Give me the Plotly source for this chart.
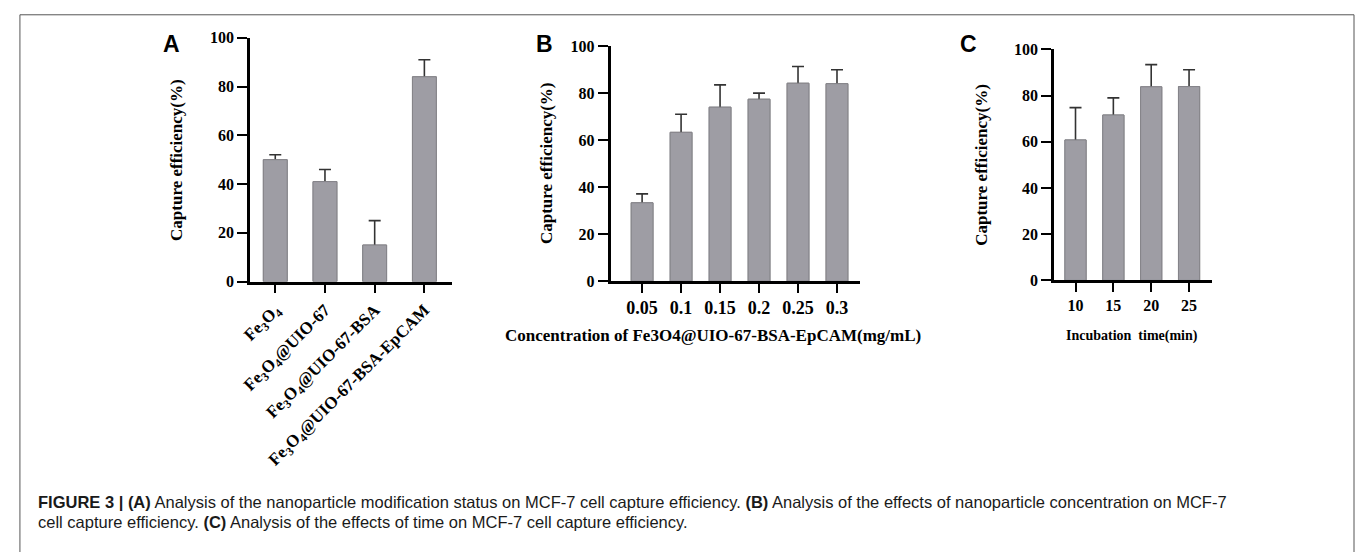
import plotly.graph_objects as go

# ---- data ----
A_labels = ["Fe<sub>3</sub>O<sub>4</sub>", "Fe<sub>3</sub>O<sub>4</sub>@UIO-67",
            "Fe<sub>3</sub>O<sub>4</sub>@UIO-67-BSA", "Fe<sub>3</sub>O<sub>4</sub>@UIO-67-BSA-EpCAM"]
A_values = [50, 41, 15, 84]
A_err = [2, 5, 10, 7]

B_conc = ["0.05", "0.1", "0.15", "0.2", "0.25", "0.3"]
B_values = [33.3, 63.3, 74, 77.4, 84.2, 84]
B_err = [3.8, 7.7, 9.5, 2.6, 7.1, 5.9]

C_time = ["10", "15", "20", "25"]
C_values = [60.8, 71.6, 83.8, 83.9]
C_err = [14, 7.4, 9.6, 7.3]

Y_TITLE = "Capture efficiency(%)"
B_XTITLE = "Concentration of Fe3O4@UIO-67-BSA-EpCAM(mg/mL)"
C_XTITLE = "Incubation  time(min)"
CAPTION_1 = ("<b>FIGURE 3 | (A)</b> Analysis of the nanoparticle modification status on MCF-7 cell capture efficiency. "
             "<b>(B)</b> Analysis of the effects of nanoparticle concentration on MCF-7")
CAPTION_2 = "cell capture efficiency. <b>(C)</b> Analysis of the effects of time on MCF-7 cell capture efficiency."

W, H = 1355, 552
BAR_COLOR = "#9e9da4"
BAR_LINE = "#858489"
ERR_COLOR = "#333333"
SERIF = "Liberation Serif, Times New Roman, serif"
SANS = "Liberation Sans, Arial, sans-serif"


def px_x(p):
    return p / W


def px_y(p):
    return 1 - p / H


fig = go.Figure()

panels = [
    # x categories, values, errors, bar width, x-domain px, y px (0, 100), x-range, x tick size
    ("x", "y", list(range(len(A_values))), A_values, A_err, 0.48, (241.7, 445), (282.3, 30.7), [-0.51, 3.55], 17),
    ("x2", "y2", B_conc, B_values, B_err, 0.56, (605, 856.7), (281.7, 39.3), [-0.81, 5.6], 18),
    ("x3", "y3", C_time, C_values, C_err, 0.56, (1051.7, 1210.7), (281, 42.7), [-0.57, 3.6], 16),
]

for i, (xa, ya, xs, vals, errs, bw, xd, yd, xr, xts) in enumerate(panels):
    # bar with error bars (symmetric), then same bar on top to hide the lower half
    fig.add_trace(go.Bar(
        x=xs, y=vals, width=bw, xaxis=xa, yaxis=ya,
        marker=dict(color=BAR_COLOR, line=dict(color=BAR_LINE, width=1)),
        error_y=dict(type="data", array=errs, symmetric=True, color=ERR_COLOR, thickness=1.6, width=6),
        showlegend=False, hoverinfo="skip",
    ))
    fig.add_trace(go.Bar(
        x=xs, y=vals, width=bw, xaxis=xa, yaxis=ya,
        marker=dict(color=BAR_COLOR, line=dict(color=BAR_LINE, width=1)),
        showlegend=False, hoverinfo="skip",
    ))
    sfx = "" if i == 0 else str(i + 1)
    xaxis = dict(
        domain=[px_x(xd[0]), px_x(xd[1])], anchor=ya, range=xr,
        showline=True, linecolor="black", linewidth=2.5,
        ticks="outside", ticklen=9, tickwidth=2, tickcolor="black",
        showgrid=False, zeroline=False, fixedrange=True,
        tickfont=dict(family=SERIF, size=xts, color="black", weight="bold"),
    )
    if i == 0:
        xaxis.update(tickmode="array", tickvals=list(range(len(A_labels))), ticktext=A_labels,
                     tickangle=-45)
    else:
        xaxis.update(type="category")
    yaxis = dict(
        domain=[px_y(yd[0]), px_y(yd[1])], anchor=xa, range=[0, 100],
        tickmode="array", tickvals=[0, 20, 40, 60, 80, 100],
        showline=True, linecolor="black", linewidth=2.5,
        ticks="outside", ticklen=10, tickwidth=2, tickcolor="black",
        showgrid=False, zeroline=False, fixedrange=True,
        tickfont=dict(family=SERIF, size=16, color="black", weight="bold"),
    )
    fig.layout["xaxis" + sfx] = xaxis
    fig.layout["yaxis" + sfx] = yaxis

annotations = []
# y-axis titles
for xc, yc in [(167, 157), (540, 160), (978, 162)]:
    annotations.append(dict(text=Y_TITLE, x=px_x(xc), y=px_y(yc), xref="paper", yref="paper",
                            textangle=-90, showarrow=False, xanchor="center", yanchor="middle",
                            font=dict(family=SERIF, size=17, color="black", weight="bold")))
# x-axis titles
annotations.append(dict(text=B_XTITLE, x=px_x(708), y=px_y(338), xref="paper", yref="paper",
                        showarrow=False, xanchor="center", yanchor="middle",
                        font=dict(family=SERIF, size=17, color="black", weight="bold")))
annotations.append(dict(text=C_XTITLE, x=px_x(1130), y=px_y(338), xref="paper", yref="paper",
                        showarrow=False, xanchor="center", yanchor="middle",
                        font=dict(family=SERIF, size=14, color="black", weight="bold")))
# panel letters
for letter, xc, yc in [("A", 163, 37), ("B", 538, 37), ("C", 966, 37)]:
    annotations.append(dict(text=letter, x=px_x(xc), y=px_y(yc), xref="paper", yref="paper",
                            showarrow=False, xanchor="center", yanchor="middle",
                            font=dict(family=SANS, size=23, color="black", weight="bold")))
# caption
for txt, yc in [(CAPTION_1, 510), (CAPTION_2, 530)]:
    annotations.append(dict(text=txt, x=px_x(26), y=px_y(yc), xref="paper", yref="paper",
                            showarrow=False, xanchor="left", yanchor="middle", align="left",
                            font=dict(family=SANS, size=16.5, color="#1a1a1a")))

fig.update_layout(
    width=W, height=H,
    margin=dict(l=0, r=0, t=0, b=0),
    paper_bgcolor="white", plot_bgcolor="white",
    barmode="overlay",
    annotations=annotations,
    shapes=[dict(type="rect", xref="paper", yref="paper",
                 x0=px_x(10), x1=px_x(1354), y0=-0.02, y1=px_y(7),
                 line=dict(color="#555555", width=1), fillcolor="rgba(0,0,0,0)")],
)

fig.write_html("out.html", config={"displayModeBar": False})

# remove the default page margin so the figure fills the window exactly
with open("out.html", "r", encoding="utf-8") as f:
    html = f.read()
html = html.replace("<body>", '<body style="margin:0;padding:0;overflow:hidden;">', 1)
with open("out.html", "w", encoding="utf-8") as f:
    f.write(html)
